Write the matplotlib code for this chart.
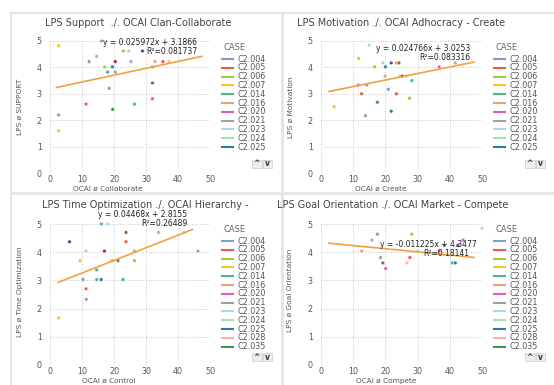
import matplotlib
matplotlib.use("Agg")
import matplotlib.pyplot as plt
from matplotlib.lines import Line2D
from matplotlib.patches import Rectangle

# ---- data ----
titles = [
    "LPS Support  ./. OCAI Clan-Collaborate",
    "LPS Motivation ./. OCAI Adhocracy - Create",
    "LPS Time Optimization ./. OCAI Hierarchy -",
    "LPS Goal Orientation ./. OCAI Market - Compete",
]
xlabels = ["OCAI ø Collaborate", "OCAI ø Create", "OCAI ø Control", "OCAI ø Compete"]
ylabels = ["LPS ø SUPPORT", "LPS ø Motivation", "LPS ø Time Optimization", "LPS ø Goal Orientation"]

slopes = [0.025972, 0.024766, 0.04468, -0.011225]
intercepts = [3.1866, 3.0253, 2.8155, 4.3477]
eq_texts = ["y = 0.025972x + 3.1866", "y = 0.024766x + 3.0253",
            "y = 0.04468x + 2.8155", "y = -0.011225x + 4.3477"]
r2_texts = ["R²=0.081737", "R²=0.083316", "R²=0.26489", "R²=0.18141"]
line_x0 = [2.0, 2.5, 2.5, 2.5]
line_x1 = [47.5, 47.5, 44.5, 47.5]

legend_cases_top = ["C2.004", "C2.005", "C2.006", "C2.007", "C2.014", "C2.016",
                    "C2.020", "C2.021", "C2.023", "C2.024", "C2.025"]
legend_cases_bottom = legend_cases_top + ["C2.028", "C2.035"]

case_colors = {
    "C2.004": "#7f9fc8", "C2.005": "#f05a3c", "C2.006": "#a8c83c",
    "C2.007": "#f7c81e", "C2.014": "#4cb894", "C2.016": "#e2a47a",
    "C2.020": "#e05ad0", "C2.021": "#a0a0a0", "C2.023": "#a8dce8",
    "C2.024": "#a8e0b8", "C2.025": "#2a7fa8", "C2.028": "#f8b4b4",
    "C2.035": "#3c9c3c", "C2.036": "#b02a2a", "C2.037": "#5a4aa0",
    "C2.038": "#a0602a", "C2.039": "#a8a8d8", "C2.040": "#3ab0b0",
}

p1_x = [2.7, 16.1, 22.9, 24.6, 28.9, 14.6, 12.2, 20.4, 25.3, 32.8, 35.3, 37.2,
        17.1, 19.5, 32.0, 18.0, 20.4, 18.5, 32.0, 32.0, 11.25, 19.6, 26.4, 2.7, 2.7]
p1_y = [4.82, 5.0, 4.62, 4.62, 4.62, 4.42, 4.22, 4.22, 4.22, 4.22, 4.22, 4.22,
        4.02, 4.02, 4.02, 3.82, 3.82, 3.21, 3.41, 2.81, 2.61, 2.41, 2.61, 2.2, 1.6]
p1_case = ["C2.007", "C2.004", "C2.006", "C2.024", "C2.037", "C2.016", "C2.004",
           "C2.036", "C2.039", "C2.016", "C2.005", "C2.028", "C2.006", "C2.025",
           "C2.014", "C2.040", "C2.021", "C2.004", "C2.038", "C2.020", "C2.005",
           "C2.035", "C2.014", "C2.021", "C2.007"]

p2_x = [15.0, 11.7, 19.2, 21.8, 23.4, 24.2, 41.7, 16.6, 20.0, 36.7, 19.9, 24.5,
        25.2, 26.6, 11.6, 14.2, 28.2, 20.9, 12.6, 23.4, 27.5, 17.5, 4.1, 21.8, 13.8]
p2_y = [4.84, 4.34, 4.17, 4.17, 4.17, 4.17, 4.17, 4.02, 4.02, 4.02, 3.67, 3.67,
        3.67, 3.67, 3.33, 3.33, 3.50, 3.17, 3.0, 3.0, 2.83, 2.68, 2.51, 2.34, 2.17]
p2_case = ["C2.023", "C2.007", "C2.024", "C2.037", "C2.016", "C2.038", "C2.039",
           "C2.006", "C2.025", "C2.020", "C2.016", "C2.028", "C2.036", "C2.024",
           "C2.020", "C2.021", "C2.014", "C2.004", "C2.005", "C2.005", "C2.006",
           "C2.035", "C2.007", "C2.025", "C2.021"]

p3_x = [16.1, 18.0, 23.75, 33.9, 41.9, 6.1, 23.75, 11.25, 17.0, 26.4, 46.25, 9.4,
        19.4, 21.25, 26.4, 14.6, 10.3, 14.6, 16.0, 22.8, 11.25, 11.35, 2.7]
p3_y = [5.0, 5.0, 4.7, 4.7, 4.7, 4.37, 4.37, 4.04, 4.04, 4.04, 4.04, 3.70,
        3.70, 3.70, 3.70, 3.37, 3.03, 3.03, 3.03, 3.03, 2.70, 2.33, 1.67]
p3_case = ["C2.004", "C2.023", "C2.038", "C2.016", "C2.024", "C2.037", "C2.005",
           "C2.028", "C2.036", "C2.006", "C2.021", "C2.007", "C2.016", "C2.035",
           "C2.006", "C2.014", "C2.004", "C2.014", "C2.025", "C2.040", "C2.005",
           "C2.021", "C2.007"]

p4_x = [50.0, 17.5, 28.2, 15.8, 44.1, 38.3, 42.5, 12.65, 36.7, 30.0, 18.5, 27.6,
        19.2, 26.7, 40.7, 41.7, 20.1]
p4_y = [4.85, 4.64, 4.64, 4.43, 4.43, 4.24, 4.24, 4.04, 4.04, 4.04, 3.81, 3.81,
        3.62, 3.62, 3.62, 3.62, 3.42]
p4_case = ["C2.023", "C2.004", "C2.006", "C2.039", "C2.020", "C2.040", "C2.037",
           "C2.016", "C2.005", "C2.024", "C2.021", "C2.005", "C2.038", "C2.028",
           "C2.014", "C2.025", "C2.020"]

xs = [p1_x, p2_x, p3_x, p4_x]
ys = [p1_y, p2_y, p3_y, p4_y]
cases = [p1_case, p2_case, p3_case, p4_case]
legends = [legend_cases_top, legend_cases_top, legend_cases_bottom, legend_cases_bottom]

# ---- layout (pixel based) ----
W, H = 554, 385
fig = plt.figure(figsize=(W / 100, H / 100), dpi=100)
fig.patch.set_facecolor("white")


def fx(px):
    return px / W


def fy(py):
    return 1 - py / H


# panel frame / separators
sep = "#e4e4e4"
fig.add_artist(Line2D([fx(11), fx(11)], [fy(13), fy(385)], color=sep, lw=1.5))
fig.add_artist(Line2D([fx(11), fx(554)], [fy(13), fy(13)], color=sep, lw=1.5))
fig.add_artist(Line2D([fx(282), fx(282)], [fy(13), fy(385)], color=sep, lw=2))
fig.add_artist(Line2D([fx(11), fx(554)], [fy(193), fy(193)], color=sep, lw=2))

axes_px = [(50, 41, 210, 173), (321, 41, 482, 173), (50, 224, 210, 365), (321, 224, 482, 365)]
title_pos = [(138, 23), (401, 23), (145, 205), (393, 205)]
xlabel_pos = [(108, 188.5), (381, 188.5), (109, 381), (386, 381)]
ylabel_pos = [(20, 107), (291, 107), (20, 292), (290, 290)]
legend_pos = [(222, 48), (494, 48), (222, 230), (494, 230)]
button_pos = [(252, 160), (525, 160), (252, 353), (525, 353)]
eq_pos = [(46, 4.95, 46, 4.62), (46.4, 4.7, 46.4, 4.39),
          (43, 5.35, 43, 5.0), (18.4, 4.29, 46, 3.97)]
eq_ha = ["right", "right", "right", "left"]

for i in range(4):
    l, t, r, b = axes_px[i]
    ax = fig.add_axes([fx(l), fy(b), (r - l) / W, (b - t) / H])
    ax.set_xlim(0, 50)
    ax.set_ylim(0, 5)
    ax.set_xticks([0, 10, 20, 30, 40, 50])
    ax.set_yticks([0, 1, 2, 3, 4, 5])
    ax.tick_params(length=0, labelsize=5.8, colors="#555555")
    ax.tick_params(axis="x", pad=1.2)
    ax.tick_params(axis="y", pad=6)
    for s in ax.spines.values():
        s.set_visible(False)
    ax.grid(True, linestyle=":", color="#c8c8c8", lw=0.7)
    ax.set_axisbelow(True)

    cols = [case_colors[c] for c in cases[i]]
    ax.scatter(xs[i], ys[i], s=7, c=cols, edgecolors="white", linewidths=0.3,
               zorder=3, clip_on=False)

    lx = [line_x0[i], line_x1[i]]
    ly = [slopes[i] * v + intercepts[i] for v in lx]
    ax.plot(lx, ly, color="#f5a040", lw=1.2, zorder=4)

    ex, ey, rx, ry = eq_pos[i]
    ax.text(ex, ey, eq_texts[i], fontsize=5.5, color="#222222", ha=eq_ha[i],
            va="center", zorder=5, clip_on=False)
    ax.text(rx, ry, r2_texts[i], fontsize=5.5, color="#222222", ha="right",
            va="center", zorder=5, clip_on=False)

    tx, ty = title_pos[i]
    fig.text(fx(tx), fy(ty), titles[i], fontsize=7, color="#444444", ha="center", va="center")
    xx, xy = xlabel_pos[i]
    fig.text(fx(xx), fy(xy), xlabels[i], fontsize=5.3, color="#555555", ha="center", va="center")
    yx, yy = ylabel_pos[i]
    fig.text(fx(yx), fy(yy), ylabels[i], fontsize=5.3, color="#555555", ha="center",
             va="center", rotation=90)

    # legend
    gx, gy = legend_pos[i]
    fig.text(fx(gx + 1), fy(gy), "CASE", fontsize=6, color="#666666", ha="left", va="center")
    for k, c in enumerate(legends[i]):
        yk = gy + 11 + k * 8.8
        fig.add_artist(Line2D([fx(gx), fx(gx + 11)], [fy(yk), fy(yk)],
                              color=case_colors[c], lw=1.5))
        fig.text(fx(gx + 16), fy(yk), c, fontsize=5.8, color="#555555", ha="left", va="center")

    # scroll buttons
    bx, by = button_pos[i]
    for j, sym in enumerate(["^", "v"]):
        fig.add_artist(Rectangle((fx(bx + j * 10.5), fy(by + 8)), 9.5 / W, 8 / H,
                                 facecolor="#eeeeee", edgecolor="#cccccc", lw=0.5))
        fig.text(fx(bx + j * 10.5 + 4.75), fy(by + 4), sym, fontsize=5.5,
                 color="#333333", ha="center", va="center", fontweight="bold")

fig.savefig("out.png", dpi=100)
